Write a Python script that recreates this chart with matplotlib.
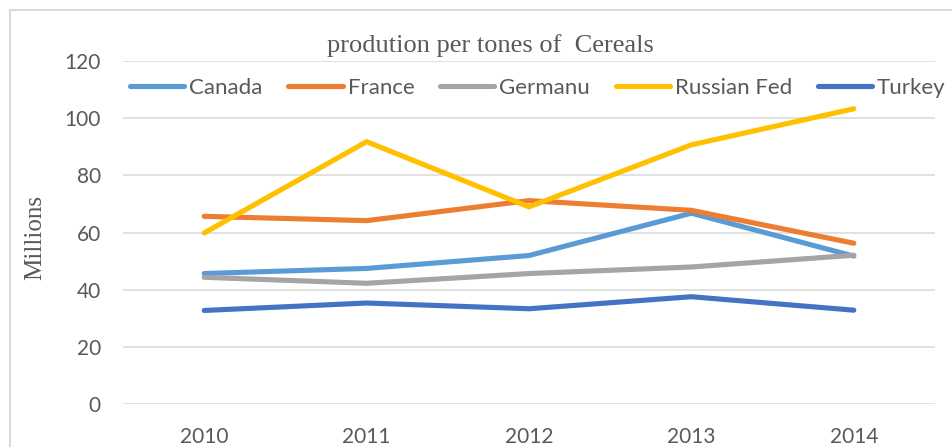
import matplotlib
matplotlib.use("Agg")
import matplotlib.pyplot as plt
from matplotlib.patches import Rectangle

years = ["2010", "2011", "2012", "2013", "2014"]
canada = [45.7, 47.5, 52.0, 66.8, 51.8]
france = [65.7, 64.2, 71.2, 67.8, 56.3]
germanu = [44.4, 42.3, 45.7, 48.0, 52.1]
russia = [59.9, 91.8, 69.0, 90.7, 103.3]
turkey = [32.8, 35.4, 33.4, 37.6, 32.9]

series = [
    ("Canada", canada, "#5B9BD5"),
    ("France", france, "#ED7D31"),
    ("Germanu", germanu, "#A5A5A5"),
    ("Russian Fed", russia, "#FFC000"),
    ("Turkey", turkey, "#4472C4"),
]

W, H = 952, 447
fig = plt.figure(figsize=(W / 100, H / 100), dpi=100)
ax = fig.add_axes([123 / W, 1 - 404.3 / H, (935 - 123) / W, (404.3 - 61) / H])

x = list(range(len(years)))
for name, vals, col in series:
    ax.plot(x, vals, color=col, lw=3.7, solid_capstyle="round",
            solid_joinstyle="miter", label=name)

ax.set_xlim(-0.5, 4.5)
ax.set_ylim(0, 120)
ax.set_yticks(range(0, 121, 20))
ax.set_xticks(x)
ax.set_xticklabels(years)
ax.grid(axis="y", color="#d9d9d9", lw=1.1)
ax.set_axisbelow(True)
for s in ax.spines.values():
    s.set_visible(False)
ax.tick_params(length=0, labelsize=15, labelcolor="#595959")
ax.tick_params(axis="y", pad=16)
ax.tick_params(axis="x", pad=16)
for lab in ax.get_xticklabels() + ax.get_yticklabels():
    lab.set_family("Lato")

fig.text(35 / W, 1 - 237.5 / H, "Millions", rotation=90, ha="center", va="center",
         family="Liberation Serif", fontsize=18, color="#595959")
fig.text(490 / W, 1 - 46 / H, "prodution per tones of  Cereals", ha="center",
         va="center", family="Liberation Serif", fontsize=19, color="#595959")

leg = fig.legend(loc="center left", bbox_to_anchor=(130 / W, 1 - 88 / H), ncol=5,
                 frameon=False, handlelength=2.45, handletextpad=0.22,
                 columnspacing=1.15, borderaxespad=0, borderpad=0,
                 prop={"family": "Lato", "size": 16})
for t in leg.get_texts():
    t.set_color("#595959")

fig.patches.append(Rectangle((10 / W, -0.1), 1.2, 1 - 10 / H + 0.1,
                             transform=fig.transFigure, fill=False,
                             edgecolor="#d9d9d9", lw=1.5))

fig.savefig("out.png", dpi=100)
